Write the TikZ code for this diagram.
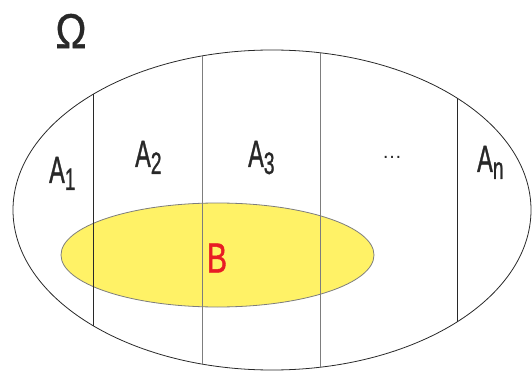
\documentclass[tikz,border=0pt]{standalone}
\usepackage{fontspec}
\setmainfont{Liberation Sans}
\definecolor{setyellow}{RGB}{255,242,102}
\definecolor{setred}{RGB}{232,28,36}
\definecolor{setgray}{RGB}{125,125,125}
\definecolor{setdark}{RGB}{40,40,40}
\newcommand{\idx}[1]{\raisebox{-7pt}{\fontsize{31}{31}\selectfont #1}}

\begin{document}
\begin{tikzpicture}[x=1pt,y=-1pt,
  setlbl/.style={inner sep=0pt,anchor=base west,xscale=0.62,text=setdark,
    font=\fontsize{38}{38}\selectfont\addfontfeature{FakeBold=1.2}}]
\useasboundingbox (0,0) rectangle (532,371);
\def\cx{272}
\def\cy{210}
\def\rx{259}
\def\ry{160}
  % universe and event B
  \draw[setdark,line width=0.8pt] (\cx,\cy) ellipse [x radius=\rx, y radius=\ry];
  \draw[setgray,fill=setyellow,line width=0.8pt] (217.5,255) ellipse [x radius=156.5, y radius=52];
  % partition lines
  \foreach \px/\col in {93/setdark,202/setgray,320/setgray,457/setdark}
    {
     \pgfmathsetmacro{\dy}{\ry*sqrt(1-((\px-\cx)/\rx)^2)}
     \draw[\col,line width=0.8pt] (\px,\cy-\dy) -- (\px,\cy+\dy);
    }
  % labels
  \node[inner sep=0pt,xscale=0.85,text=setdark,font=\fontsize{49}{49}\selectfont\addfontfeature{FakeBold=0.8}] (omega) at (71,31) {Ω};
  \node[setlbl] (a1) at (49,183) {A\idx{1}};
  \node[setlbl] (a2) at (135,167) {A\idx{2}};
  \node[setlbl] (a3) at (248,167) {A\idx{3}};
  \node[inner sep=0pt,text=setdark,font=\fontsize{20}{20}\selectfont] (dots) at (392,157) {…};
  \node[setlbl] (an) at (477,172) {A\idx{n}};
  \node[inner sep=0pt,xscale=0.72,text=setred,font=\fontsize{42}{42}\selectfont\addfontfeature{FakeBold=1.2}] (b) at (217,258) {B};
\end{tikzpicture}
\end{document}
